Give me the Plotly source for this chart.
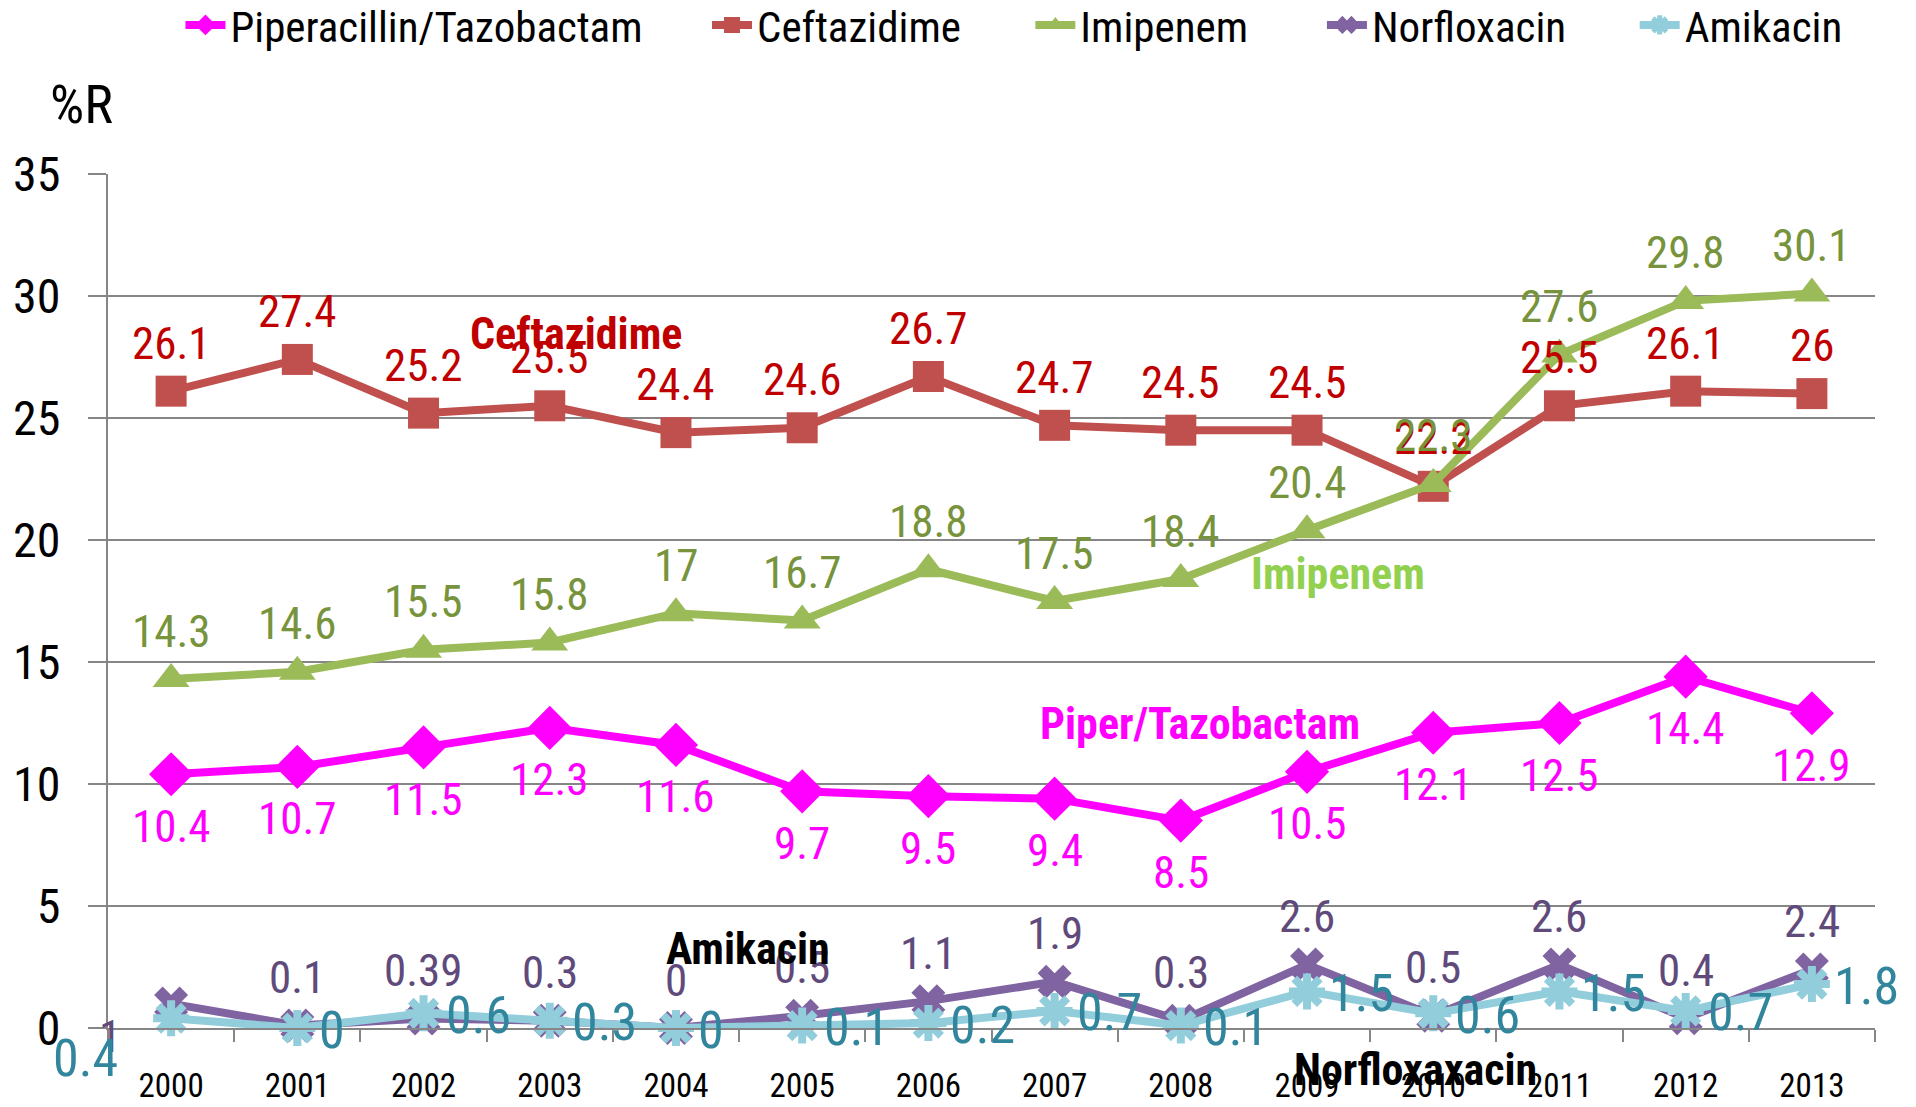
import plotly.graph_objects as go

years = [str(y) for y in range(2000, 2014)]
pip = [10.4, 10.7, 11.5, 12.3, 11.6, 9.7, 9.5, 9.4, 8.5, 10.5, 12.1, 12.5, 14.4, 12.9]
cef = [26.1, 27.4, 25.2, 25.5, 24.4, 24.6, 26.7, 24.7, 24.5, 24.5, 22.2, 25.5, 26.1, 26.0]
imi = [14.3, 14.6, 15.5, 15.8, 17.0, 16.7, 18.8, 17.5, 18.4, 20.4, 22.3, 27.6, 29.8, 30.1]
nor = [1.0, 0.1, 0.39, 0.3, 0.0, 0.5, 1.1, 1.9, 0.3, 2.6, 0.5, 2.6, 0.4, 2.4]
ami = [0.4, 0.0, 0.6, 0.3, 0.0, 0.1, 0.2, 0.7, 0.1, 1.5, 0.6, 1.5, 0.7, 1.8]

FONT = "Liberation Sans Narrow, Arial Narrow, Roboto Condensed, sans-serif"

def fmt(v):
    return ("%g" % v)

series = [
    dict(name="Piperacillin/Tazobactam", y=pip, color="#FF00FF", lab="#FF00FF",
         symbol="diamond", size=34, pos="below", lx=0.041),
    dict(name="Ceftazidime", y=cef, color="#C0504D", lab="#C00000",
         symbol="square", size=31, pos="above", lx=0.339),
    dict(name="Imipenem", y=imi, color="#9BBB59", lab="#77933C",
         symbol="triangle-up", size=32, pos="above", lx=0.522),
    dict(name="Norfloxacin", y=nor, color="#8064A2", lab="#604A7B",
         symbol="x", size=30, pos="above", lx=0.687),
    dict(name="Amikacin", y=ami, color="#92CDDC", lab="#31859C",
         symbol="asterisk-open", size=30, pos="right", lx=0.864),
]

fig = go.Figure()
annotations = []
legends = {}
for k, s in enumerate(series):
    mk = dict(symbol=s["symbol"], size=s["size"], color=s["color"])
    if s["symbol"] == "asterisk-open":
        mk["line"] = dict(color=s["color"], width=8)
    else:
        mk["line"] = dict(color=s["color"], width=0)
    lname = "legend" if k == 0 else "legend%d" % (k + 1)
    legends[lname] = dict(orientation="h", x=s["lx"], xanchor="left", y=1.1745, yanchor="middle",
                          font=dict(family=FONT, size=43, color="#000000"), itemwidth=40,
                          bgcolor="rgba(0,0,0,0)", borderwidth=0)
    fig.add_trace(go.Scatter(
        x=years, y=s["y"], name=s["name"], mode="lines+markers", legend=lname,
        line=dict(color=s["color"], width=8), marker=mk, cliponaxis=False,
    ))
    for i, v in enumerate(s["y"]):
        a = dict(x=i, y=v, xref="x", yref="y", text=fmt(v), showarrow=False,
                 xanchor="center", yanchor="middle",
                 font=dict(family=FONT, size=45, color=s["lab"]))
        if s["pos"] == "below":
            a.update(yshift=-52)
        elif s["pos"] == "above":
            a.update(yshift=48)
        else:
            a.update(xanchor="left", xshift=20, yshift=-2, font=dict(family=FONT, size=52, color=s["lab"]))
        if i == 0 and s["name"] == "Norfloxacin":
            a.update(xshift=-61, yshift=-33)
        if i == 0 and s["name"] == "Amikacin":
            a.update(xanchor="center", xshift=-86, yshift=-40)
        annotations.append(a)

bold = [
    ("Ceftazidime", 0.265, 0.8126, "#C00000"),
    ("Imipenem", 0.696, 0.532, "#92D050"),
    ("Piper/Tazobactam", 0.618, 0.356, "#FF00FF"),
    ("Amikacin", 0.362, 0.093, "#000000"),
    ("Norfloxaxacin", 0.740, -0.0486, "#000000"),
]
for t, x, y, c in bold:
    annotations.append(dict(x=x, y=y, xref="paper", yref="paper", text="<b>%s</b>" % t,
                            xanchor="center", yanchor="middle",
                            showarrow=False, font=dict(family=FONT, size=44, color=c)))
annotations.append(dict(x=-0.0152, y=1.0815, xref="paper", yref="paper", text="%R",
                        xanchor="center", yanchor="middle",
                        showarrow=False, font=dict(family=FONT, size=54, color="#000000")))

fig.update_layout(
    width=1916, height=1107,
    margin=dict(l=108, r=41, t=174, b=79, pad=0, autoexpand=False),
    paper_bgcolor="white", plot_bgcolor="white",
    font=dict(family=FONT, color="#000000"),
    showlegend=True,
    annotations=annotations,
    xaxis=dict(type="category", range=[-0.5, 13.5], autorange=False, showgrid=False,
               showline=True, linecolor="#868686", linewidth=2,
               ticks="outside", tickson="boundaries", ticklen=12, tickcolor="#868686", tickwidth=2,
               tickfont=dict(family=FONT, size=33, color="#000000"), ticklabelstandoff=27,
               tickangle=0, zeroline=False, automargin=False),
    yaxis=dict(range=[0, 35], dtick=5, showgrid=True, gridcolor="#868686", gridwidth=2,
               showline=True, linecolor="#868686", linewidth=2, ticks="outside", ticklen=18,
               tickcolor="#868686", tickwidth=2, tickfont=dict(family=FONT, size=48, color="#000000"),
               ticklabelstandoff=18, zeroline=False, automargin=False),
    **legends,
)

fig.write_html("out.html", config={"displayModeBar": False},
               post_script="document.body.style.margin='0';document.body.style.overflow='hidden';")
